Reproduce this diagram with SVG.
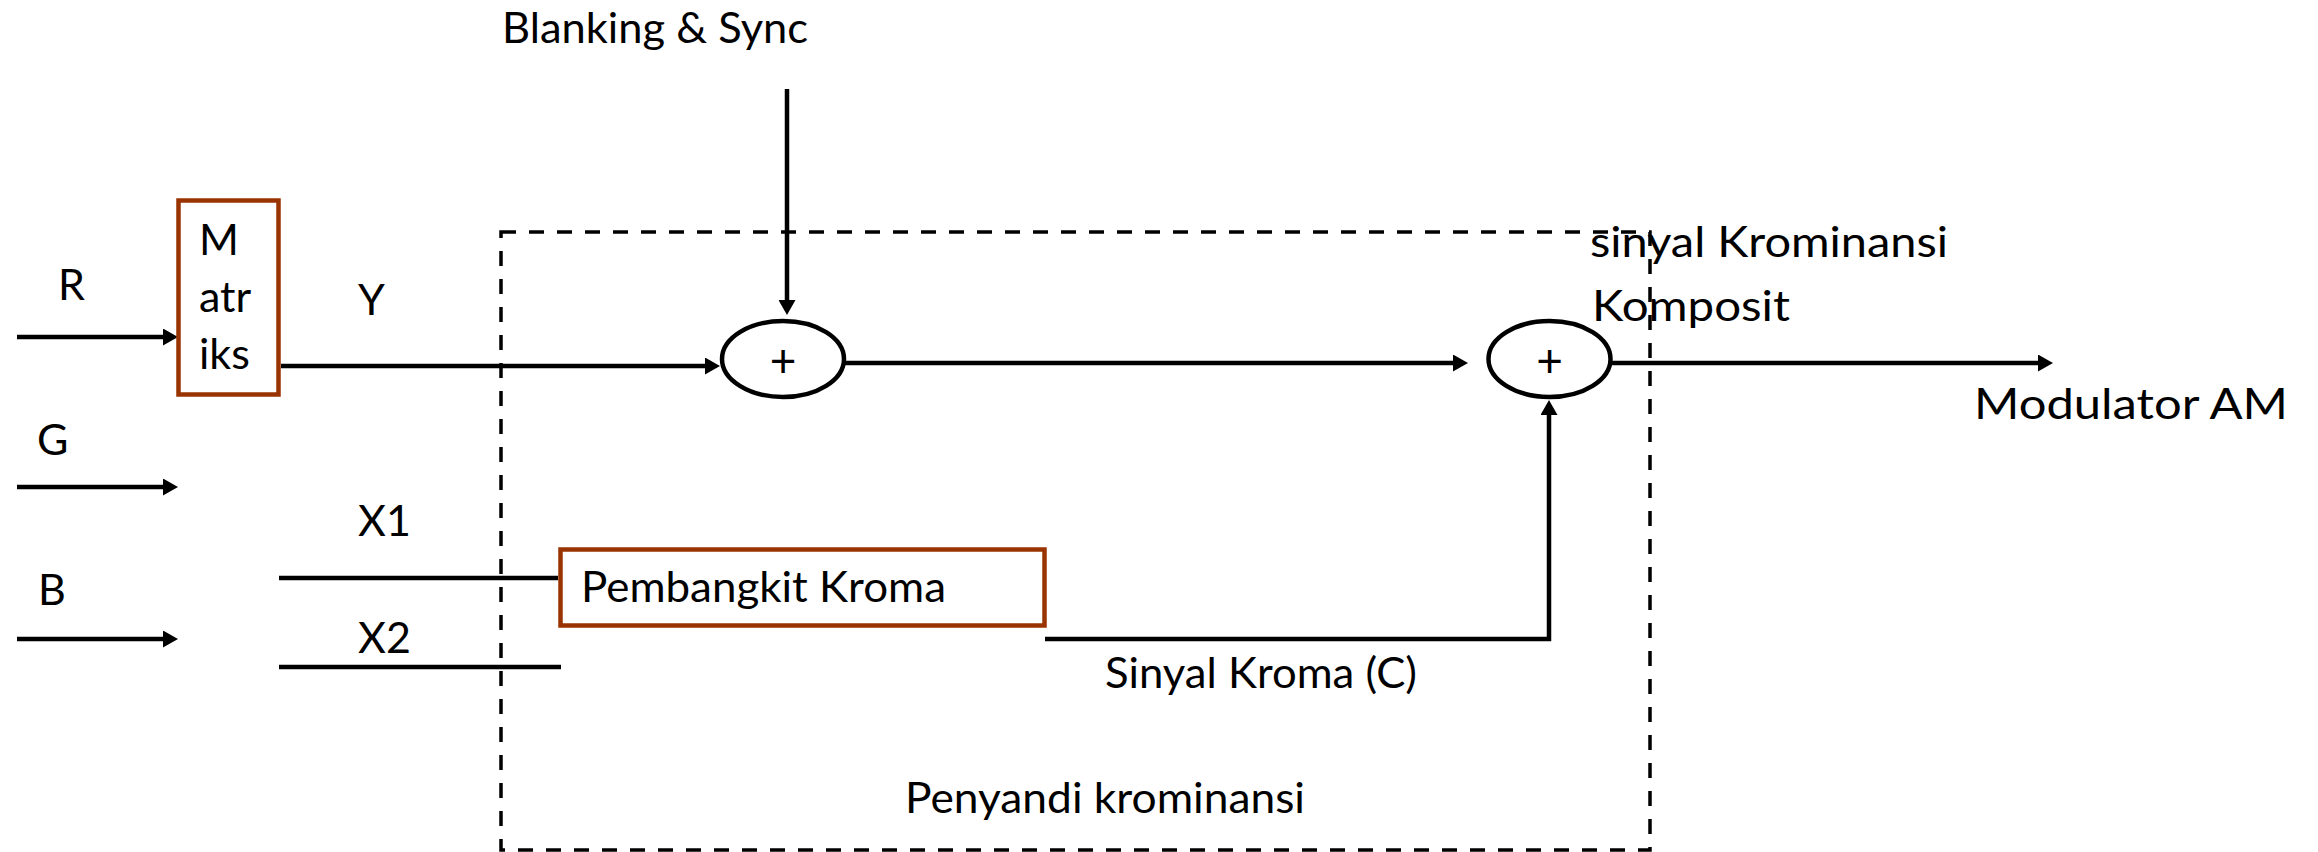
<svg xmlns="http://www.w3.org/2000/svg" width="2318" height="852" viewBox="0 0 2318 852">
  <defs>
    <style>
      text { font-family: Lato, "Open Sans", "Liberation Sans", sans-serif; fill: #000; font-size: 43px; }
      .wire { fill: none; stroke: #000; stroke-width: 4.5; }
      .block { fill: #fff; stroke: #993300; stroke-width: 4.5; }
      .adder { fill: #fff; stroke: #000; stroke-width: 4.5; }
      .frame { fill: none; stroke: #000; stroke-width: 3.5; stroke-dasharray: 15 13; }
      .plus { font-size: 46px; text-anchor: middle; }
    </style>
    <marker id="arrow" markerUnits="userSpaceOnUse" markerWidth="16" markerHeight="17" refX="0" refY="8.5" orient="auto">
      <path d="M0,0 L15,8.5 L0,17 z" fill="#000"/>
    </marker>
  </defs>
  <rect width="2318" height="852" fill="#fff"/>

  <!-- input labels -->
  <g id="inputs">
    <text x="58" y="300">R</text>
    <text x="37" y="455">G</text>
    <text x="38" y="605">B</text>
    <text x="358" y="315">Y</text>
    <text x="358" y="536">X1</text>
    <text x="358" y="653">X2</text>
    <text x="502" y="43" font-size="44" textLength="306" lengthAdjust="spacingAndGlyphs">Blanking &amp; Sync</text>
  </g>

  <!-- connectors -->
  <g id="connectors">
    <path class="wire" d="M17,337 H163" marker-end="url(#arrow)"/>
    <path class="wire" d="M17,487 H163" marker-end="url(#arrow)"/>
    <path class="wire" d="M17,639 H163" marker-end="url(#arrow)"/>
    <path class="wire" d="M281,366 H705" marker-end="url(#arrow)"/>
    <path class="wire" d="M787,89 V300" marker-end="url(#arrow)"/>
    <path class="wire" d="M845,363 H1453" marker-end="url(#arrow)"/>
    <path class="wire" d="M1612,363 H2038" marker-end="url(#arrow)"/>
    <path class="wire" d="M1045,639 H1549 V415" marker-end="url(#arrow)"/>
    <path class="wire" d="M279,578 H558"/>
    <path class="wire" d="M279,667 H561"/>
  </g>

  <!-- matrix block -->
  <g id="matriks">
    <rect class="block" x="178.5" y="200.5" width="100" height="194"/>
    <text x="199" y="255" font-size="44">M</text>
    <text x="199" y="312" font-size="44">atr</text>
    <text x="199" y="369" font-size="44">iks</text>
  </g>

  <!-- chroma generator block -->
  <g id="pembangkit-kroma">
    <rect class="block" x="560.5" y="549.5" width="484" height="76"/>
    <text x="581" y="602" textLength="365" lengthAdjust="spacingAndGlyphs">Pembangkit Kroma</text>
  </g>

  <!-- first adder: Y + blanking/sync -->
  <g id="adder-1">
    <ellipse class="adder" cx="783" cy="359" rx="61" ry="38"/>
    <text class="plus" x="783" y="377">+</text>
  </g>

  <!-- second adder: luminance + chroma -->
  <g id="adder-2">
    <ellipse class="adder" cx="1549.5" cy="359" rx="61" ry="38"/>
    <text class="plus" x="1549.5" y="377">+</text>
  </g>

  <g id="labels">
    <text x="1105" y="688" textLength="312" lengthAdjust="spacingAndGlyphs">Sinyal Kroma (C)</text>
    <text x="905" y="813" textLength="400" lengthAdjust="spacingAndGlyphs">Penyandi krominansi</text>
    <text x="1590" y="257" font-size="41" textLength="358" lengthAdjust="spacingAndGlyphs">sinyal Krominansi</text>
    <text x="1592" y="321" font-size="48" textLength="198" lengthAdjust="spacingAndGlyphs">Komposit</text>
    <text x="1974" y="419" font-size="54" textLength="314" lengthAdjust="spacingAndGlyphs">Modulator AM</text>
  </g>

  <!-- chrominance encoder boundary -->
  <g id="penyandi-krominansi">
    <rect class="frame" x="501" y="232" width="1149" height="618"/>
  </g>
</svg>
